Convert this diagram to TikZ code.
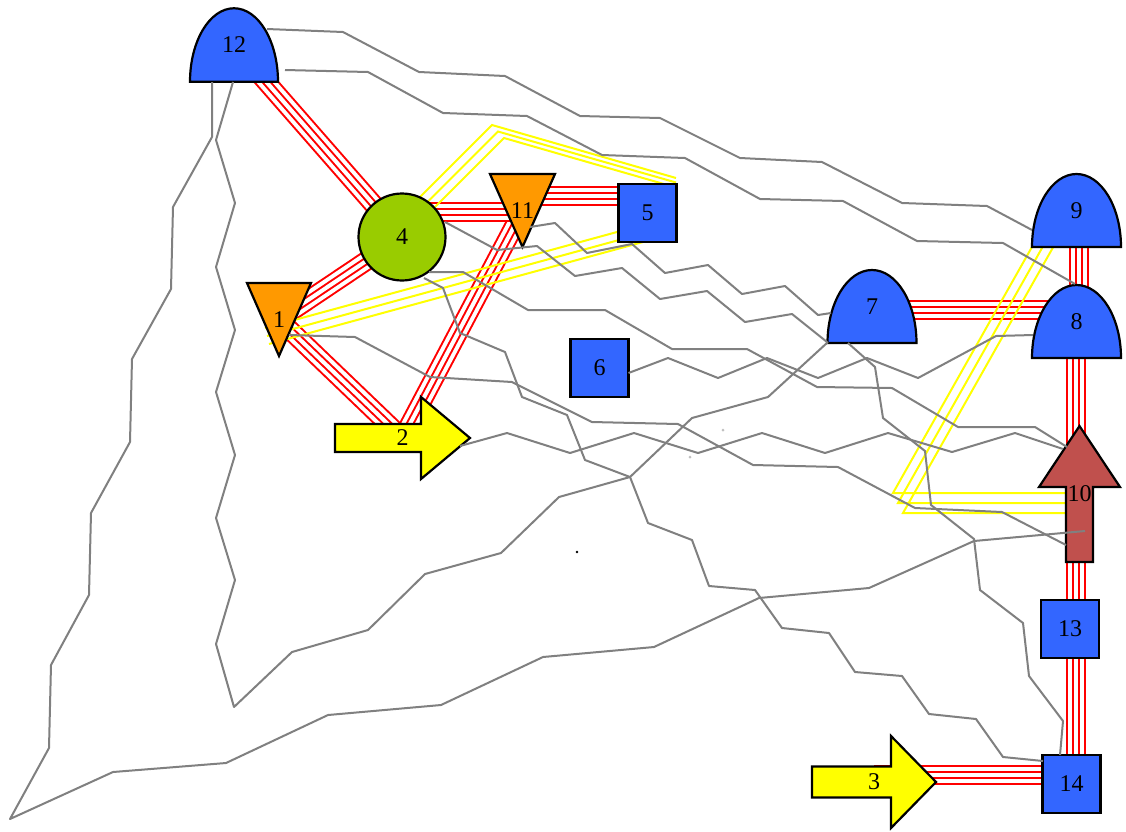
\documentclass[tikz,border=0pt]{standalone}
\usepackage{fontspec}
\setmainfont{Liberation Serif}
\usetikzlibrary{calc}
\pgfdeclarelayer{bg}
\pgfdeclarelayer{edges}
\pgfdeclarelayer{top}
\pgfsetlayers{bg,edges,main,top}
\definecolor{nblue}{HTML}{3366FF}
\definecolor{norange}{HTML}{FF9900}
\definecolor{ngreen}{HTML}{99CC00}
\definecolor{nyellow}{HTML}{FFFF00}
\definecolor{nbrown}{HTML}{C0504D}
\definecolor{lgray}{HTML}{808080}
\tikzset{
  shapeline/.style={draw=black, line width=2.2pt, line join=miter},
  lbl/.style={inner sep=0pt, font=\fontsize{24}{24}\selectfont, text=black},
  redb/.style={draw=red, line width=20pt,
    postaction={draw=white, line width=16pt},
    postaction={draw=red, line width=8pt},
    postaction={draw=white, line width=4pt}},
  yel/.style={draw=nyellow, line width=2pt},
  conn/.style={draw=lgray, line width=2pt, line join=round},
}
\begin{document}
\begin{tikzpicture}[x=1pt, y=-1pt]
\useasboundingbox (0,0) rectangle (1126,831);
\begin{pgfonlayer}{bg}
  \fill[white] (0,0) rectangle (1126,831);
\end{pgfonlayer}

% ---------- node shapes ----------
% domes
\filldraw[shapeline, fill=nblue] (190,81.75) arc[start angle=180, end angle=0, x radius=44pt, y radius=73.5pt] -- cycle;
\filldraw[shapeline, fill=nblue] (827.5,343) arc[start angle=180, end angle=0, x radius=44.5pt, y radius=73pt] -- cycle;
\filldraw[shapeline, fill=nblue] (1032,247) arc[start angle=180, end angle=0, x radius=44.5pt, y radius=73pt] -- cycle;
\filldraw[shapeline, fill=nblue] (1032,358) arc[start angle=180, end angle=0, x radius=44.5pt, y radius=73pt] -- cycle;
% triangles
\filldraw[shapeline, fill=norange] (490,174) -- (555,174) -- (522.5,247) -- cycle;
\filldraw[shapeline, fill=norange] (247,283) -- (311,283) -- (279,356) -- cycle;
% circle
\filldraw[shapeline, fill=ngreen] (402,237) circle[radius=43.5pt];
% squares
\filldraw[shapeline, fill=nblue] (618.5,184) rectangle (676.5,242);
\filldraw[shapeline, fill=nblue] (570.5,339) rectangle (628.5,397);
\filldraw[shapeline, fill=nblue] (1041,600) rectangle (1099,658);
\filldraw[shapeline, fill=nblue] (1042.5,755) rectangle (1100.5,813);
% arrows
\filldraw[shapeline, fill=nyellow] (335,424) -- (421,424) -- (421,397) -- (470,438) -- (421,479) -- (421,452) -- (335,452) -- cycle;
\filldraw[shapeline, fill=nyellow] (812,766.5) -- (891,766.5) -- (891,736) -- (936,782) -- (891,828) -- (891,797.5) -- (812,797.5) -- cycle;
\filldraw[shapeline, fill=nbrown] (1079.5,426) -- (1120,487) -- (1093,487) -- (1093,562) -- (1066,562) -- (1066,487) -- (1039,487) -- cycle;

% ---------- labels (named nodes) ----------
\node[lbl] (n12) at (234,45) {12};
\node[lbl] (n7) at (872,306.5) {7};
\node[lbl] (n9) at (1076.5,210.5) {9};
\node[lbl] (n8) at (1076.5,321.5) {8};
\node[lbl] (n11) at (522.5,210.5) {11};
\node[lbl] (n1) at (279,319.5) {1};
\node[lbl] (n4) at (402,237) {4};
\node[lbl] (n5) at (647.5,213) {5};
\node[lbl] (n6) at (599.5,368) {6};
\node[lbl] (n13) at (1070,629) {13};
\node[lbl] (n14) at (1071.5,784) {14};
\node[lbl] (n2) at (402.5,438) {2};
\node[lbl] (n3) at (874,782) {3};
\node[lbl] (n10) at (1079.5,494) {10};

% ---------- red and yellow bundles ----------
\begin{pgfonlayer}{edges}
  \draw[redb] (n12.center) -- (n4.center);
  \draw[redb] (n1.center) -- (n4.center);
  \draw[redb] (n1.center) -- (n2.center);
  \draw[redb] (n11.center) -- (n2.center);
  \draw[redb] ([yshift=25pt]n4.center) -- ([yshift=-1.5pt]n11.center);
  \draw[redb] ([yshift=14.5pt]n11.center) -- ([yshift=17pt]n5.center);
  \draw[redb] ([xshift=2.5pt]n9.center) -- ([xshift=2.5pt]n8.center);
  \draw[redb] ([yshift=-3pt]n7.center) -- ([yshift=12pt]n8.center);
  \draw[redb] ([xshift=-0.5pt]n8.center) -- ([xshift=-3.5pt]n10.center);
  \draw[redb] ([xshift=-3.5pt]n10.center) -- ([xshift=6pt]n13.center);
  \draw[redb] ([xshift=6pt]n13.center) -- ([xshift=4.5pt]n14.center);
  \draw[redb] ([yshift=7.5pt]n3.center) -- ([yshift=9.5pt]n14.center);
  % yellow 4 -> 5
  \draw[yel] ($(n4.center)+(10,-32)$) -- (492,125) -- ($(n5.center)+(28.5,-35)$);
  \draw[yel] ($(n4.center)+(16,-25.5)$) -- (498,131.5) -- ($(n5.center)+(28.5,-30.5)$);
  \draw[yel] ($(n4.center)+(22,-19)$) -- (504,138) -- ($(n5.center)+(28.5,-25.5)$);
  % yellow 1 -> 5
  \draw[yel] ($(n1.center)+(-14,8.5)$) -- ($(n5.center)+(2.5,10)$);
  \draw[yel] ($(n1.center)+(-12,16.5)$) -- ($(n5.center)+(4.5,18)$);
  \draw[yel] ($(n1.center)+(-10,24.5)$) -- ($(n5.center)+(6.5,26)$);
  % yellow 9 -> 10
  \draw[yel] ($(n9.center)+(-26.5,4.5)$) -- (893,493) -- ($(n10.center)+(-0.5,-1)$);
  \draw[yel] ($(n9.center)+(-21.5,14.5)$) -- (898,503) -- ($(n10.center)+(-0.5,9)$);
  \draw[yel] ($(n9.center)+(-16.5,24.5)$) -- (903,513) -- ($(n10.center)+(-0.5,19)$);
\end{pgfonlayer}

% ---------- gray connectors ----------
\begin{pgfonlayer}{top}
  \draw[conn] ($(n12.center)+(33,-16)$) -- (343,32) -- (419,72) -- (505,76) -- (580,116) -- (660,118) -- (740,158) -- (822,162) -- (902,203) -- (987,206) -- ($(n9.center)+(-44.5,19.5)$);
  \draw[conn] ($(n12.center)+(51,25)$) -- (368,72) -- (443,113) -- (527,116) -- (602,155) -- (685,158) -- (760,199) -- (843,201) -- (917,241) -- (1003,243) -- ($(n8.center)+(-1.5,-37.5)$);
  \draw[conn] ($(n12.center)+(-22,37)$) -- (212,137) -- (173,207) -- (171,289) -- (132,359) -- (130,442) -- (91,513) -- (89,595) -- (51,665) -- (49,748) -- (10,819) -- (113,772) -- (226,763) -- (328,715) -- (441,705) -- (543,657) -- (654,647) -- (759,598) -- (869,588) -- (974,541) -- ($(n10.center)+(5.5,37)$);
  \draw[conn] ($(n12.center)+(-1,37)$) -- (216,140) -- (235,203) -- (216,267) -- (235,330) -- (216,392) -- (235,455) -- (216,518) -- (235,580) -- (216,644) -- (234,707) -- (292,652) -- (368,630) -- (425,574) -- (501,553) -- (559,497) -- (630,477) -- (692,418) -- (768,397) -- ($(n7.center)+(-44,35.5)$);
  \draw[conn] ($(n4.center)+(43,-15)$) -- (497,250) -- (537,246) -- (575,276) -- (622,268) -- (660,299) -- (707,291) -- (745,322) -- (792,314) -- ($(n7.center)+(-45,35.5)$);
  \draw[conn] ($(n11.center)+(7.5,16.5)$) -- (555,223) -- (587,253) -- (632,244) -- (665,273) -- (708,265) -- (742,294) -- (785,286) -- (818,315) -- ($(n7.center)+(-41,6.5)$);
  \draw[conn] ($(n4.center)+(27,35)$) -- (463,272) -- (528,310) -- (605,310) -- (672,349) -- (747,349) -- (817,387) -- (892,388) -- (958,427) -- (1035,427) -- ($(n10.center)+(-12.5,-47)$);
  \draw[conn] ($(n4.center)+(22,41)$) -- (443,288) -- (460,333) -- (505,352) -- (522,397) -- (567,415) -- (585,460) -- (630,477) -- (648,523) -- (692,540) -- (709,586) -- (755,590) -- (782,628) -- (829,633) -- (855,672) -- (902,676) -- (929,714) -- (976,719) -- (1003,757) -- ($(n14.center)+(-28.5,-23)$);
  \draw[conn] ($(n7.center)+(-24,36.5)$) -- (875,367) -- (883,418) -- (925,451) -- (931,505) -- (974,539) -- (980,590) -- (1023,623) -- (1029,676) -- (1063,721) -- ($(n14.center)+(-11.5,-29)$);
  \draw[conn] ($(n6.center)+(29,5)$) -- (668,358) -- (718,378) -- (767,358) -- (818,378) -- (867,358) -- (918,378) -- (996,336) -- ($(n8.center)+(-43.5,13.5)$);
  \draw[conn] ($(n1.center)+(10,15.5)$) -- (355,337) -- (430,377) -- (512,382) -- (592,422) -- (678,424) -- (753,465) -- (838,467) -- (915,508) -- (1002,512) -- ($(n10.center)+(-13.5,51)$);
  \draw[conn] ($(n2.center)+(57.5,8)$) -- (507,433) -- (570,453) -- (634,433) -- (698,453) -- (762,433) -- (825,453) -- (888,433) -- (952,452) -- (1015,433) -- ($(n10.center)+(-16.5,-45)$);
  % stray dots
  \fill[black] (577,552) circle[radius=1.3pt];
  \fill[lgray!50] (723,430) circle[radius=1.5pt];
  \fill[lgray!50] (690,457) circle[radius=1.5pt];
\end{pgfonlayer}
\end{tikzpicture}
\end{document}
